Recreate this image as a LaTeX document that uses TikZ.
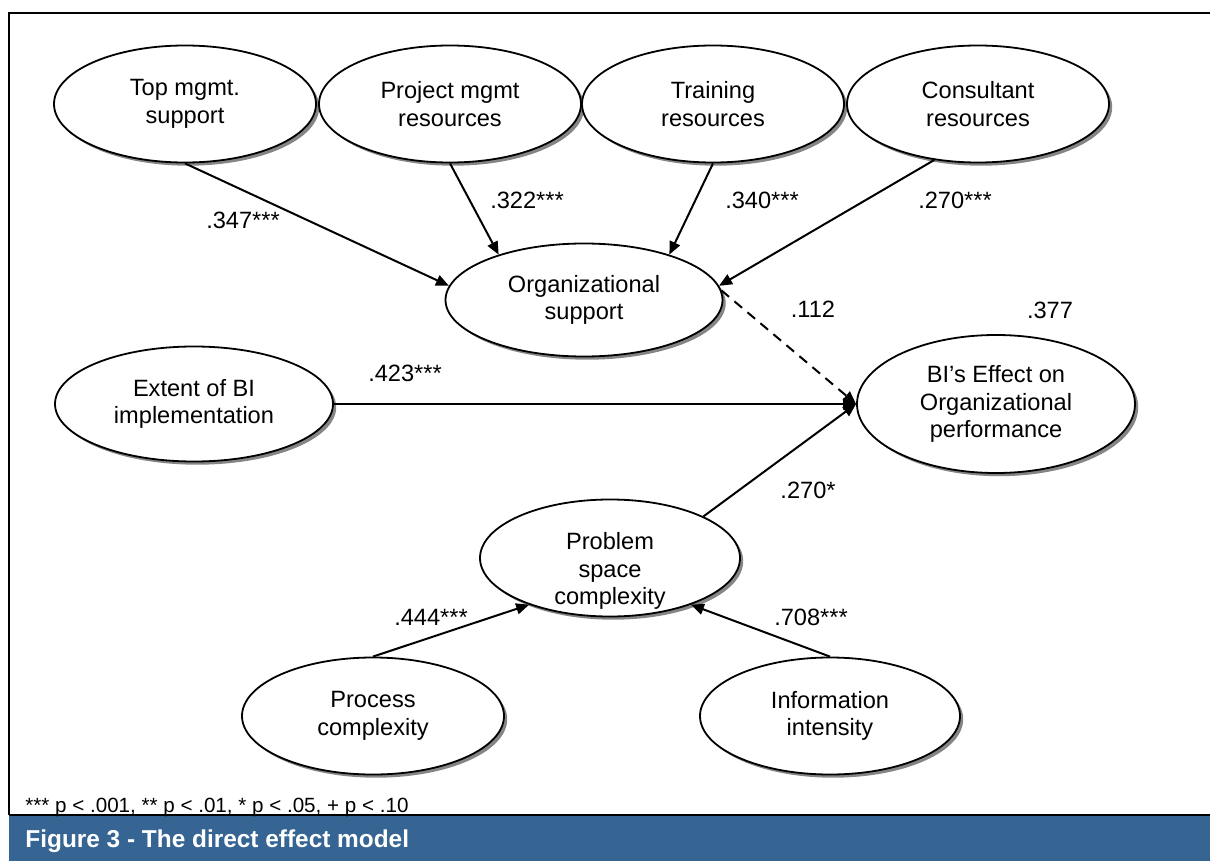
\documentclass[tikz,border=0pt]{standalone}
\usepackage{fontspec}
\setmainfont{Liberation Sans}
\usetikzlibrary{shapes.geometric, arrows.meta, shadows}
\definecolor{figblue}{HTML}{366493}

\tikzset{
    construct/.style={ellipse, draw, line width=0.9pt, fill=white, inner sep=0pt,
        minimum width=131pt, minimum height=58.5pt, align=center,
        font=\fontsize{11.8}{13.8}\selectfont,
        drop shadow={shadow xshift=1.6pt, shadow yshift=-1.6pt, fill=black!48, opacity=1}},
    effect/.style={line width=1pt, -{Triangle[length=6.5pt, width=5.5pt]}},
    weak/.style={effect, dash pattern=on 5pt off 3.5pt},
    coef/.style={font=\fontsize{11.8}{13.8}\selectfont, inner sep=0pt}
}

\begin{document}
\begin{tikzpicture}[x=0.5pt, y=-0.5pt]
\useasboundingbox (0,0) rectangle (1210,861);

% ===== Frame and caption bar =====
\draw[line width=1pt] (1210,13) -- (9,13) -- (9,815);
\fill[figblue] (9,815) rectangle (1210,861);
\draw[line width=1pt] (9,815) -- (1210,815);

% ===== Antecedents =====
\node[construct] (top)   at (185,104) {Top mgmt.\\support};
\node[construct] (proj)  at (450,104) {Project mgmt\\resources};
\node[construct] (train) at (713,104) {Training\\resources};
\node[construct] (cons)  at (978,104) {Consultant\\resources};

% ===== Mediators and outcome =====
\node[construct, minimum width=138.5pt, minimum height=56.5pt] (org) at (584,300) {Organizational\\support};
\node[construct, minimum width=139pt, minimum height=57.5pt] (ext) at (194,404) {Extent of BI\\implementation};
\node[construct, minimum width=139pt, minimum height=69pt] (bi) at (996,404) {BI's Effect on\\Organizational\\performance};
\node[construct, minimum width=130pt,
      label={[yshift=-6.5pt, align=center, font=\fontsize{11.8}{13.8}\selectfont]center:Problem\\space\\complexity}] (psc) at (610,558) {};
\node[construct] (proc) at (373,716) {Process\\complexity};
\node[construct, minimum width=130pt] (info) at (830,716) {Information\\intensity};

% ===== Paths =====
\draw[effect] (top.south) -- (org.174);
\draw[effect] (proj.south) -- (org.152);
\draw[effect] (train.south) -- (org.28);
\draw[effect] (cons.232) -- (org.6);
\draw[weak]   (org.4) -- (bi.west);
\draw[effect] (ext.east) -- (bi.west);
\draw[effect] (psc.24) -- (bi.west);
\draw[effect] (proc.north) -- (psc.210);
\draw[effect] (info.north) -- (psc.-30);

% ===== Coefficients =====
\node[coef] (c-top)   at (243,220) {.347***};
\node[coef] (c-proj)  at (527,200) {.322***};
\node[coef] (c-train) at (762,200) {.340***};
\node[coef] (c-cons)  at (955,200) {.270***};
\node[coef] (c-org)   at (813,309) {.112};
\node[coef] (c-bi)    at (1050,310) {.377};
\node[coef] (c-ext)   at (405,373) {.423***};
\node[coef] (c-psc)   at (808,490) {.270*};
\node[coef] (c-proc)  at (431,617) {.444***};
\node[coef] (c-info)  at (811,617) {.708***};

% ===== Notes =====
\node[anchor=base west, inner sep=0pt, font=\fontsize{10.3}{12}\selectfont] (note) at (25,812)
    {*** p < .001, ** p < .01, * p < .05, + p < .10};
\node[anchor=base west, inner sep=0pt, text=white, font=\bfseries\fontsize{12.2}{14}\selectfont] (caption) at (25,847)
    {Figure 3 - The direct effect model};
\end{tikzpicture}
\end{document}
